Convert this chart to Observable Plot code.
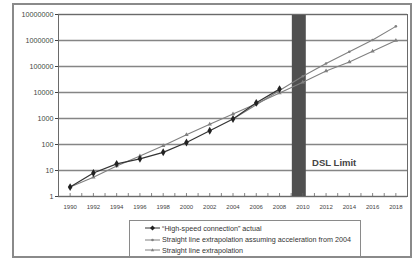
<!DOCTYPE html>
<html><head><meta charset="utf-8">
<script src="https://cdn.jsdelivr.net/npm/d3@7"></script>
<script src="https://cdn.jsdelivr.net/npm/@observablehq/plot@0.6"></script>
<style>
body{margin:0;background:#fff;font-family:"Liberation Sans",Arial,sans-serif;}
#wrap{position:relative;width:414px;height:264px;overflow:hidden;background:#fff;}
#frame{position:absolute;left:12px;top:3px;width:400px;height:255px;border:2px solid #8a8a8a;box-sizing:border-box;z-index:5;}
#chart{position:absolute;left:0;top:0;z-index:1;}
#legend{position:absolute;left:129px;top:220px;width:232px;height:37px;border:1.2px solid #8a8a8a;border-bottom:none;box-sizing:border-box;font-size:7.2px;color:#333;z-index:4;}
.item{position:absolute;left:15px;display:flex;align-items:center;height:9px;white-space:nowrap;}
.item svg{margin-right:2px;}
</style></head>
<body>
<div id="wrap"><div id="chart"></div><div id="legend"></div><div id="frame"></div></div>
<script>
const actualYears = [1990,1992,1994,1996,1998,2000,2002,2004,2006,2008];
const actualValues = [2.3, 8, 18, 28, 50, 120, 340, 950, 4000, 13500];
const accelYears = [2004,2006,2008,2010,2012,2014,2016,2018];
const accelValues = [950, 3400, 12000, 42000, 130000, 370000, 1050000, 3500000];
const straightYears = [1990,1992,1994,1996,1998,2000,2002,2004,2006,2008,2010,2012,2014,2016,2018];
const straightValues = [2.3, 5.5, 15, 36, 90, 235, 600, 1480, 3700, 9500, 25000, 67000, 150000, 390000, 1000000];
const xTickLabels = [1990,1992,1994,1996,1998,2000,2002,2004,2006,2008,2010,2012,2014,2016,2018];
const yTickLabels = [1,10,100,1000,10000,100000,1000000,10000000];
const seriesNames = ["\u201cHigh-speed connection\u201d actual",
  "Straight line extrapolation assuming acceleration from 2004",
  "Straight line extrapolation"];
const limitSpan = [2009.1, 2010.3];
const limitLabel = "DSL Limit";
const limitLabelAt = [2010.8, 19];

const actual = actualYears.map((y,i)=>({year:y, value:actualValues[i]}));
const accel = accelYears.map((y,i)=>({year:y, value:accelValues[i]}));
const straight = straightYears.map((y,i)=>({year:y, value:straightValues[i]}));

const gray = "#808080";
const chart = Plot.plot({
  width:414, height:216,
  marginLeft:58, marginRight:7, marginTop:14, marginBottom:20,
  style:{fontFamily:"Liberation Sans, Arial, sans-serif", background:"transparent", color:"#444"},
  x:{domain:[1989,2019], label:null},
  y:{type:"log", domain:[1,1e7], label:null},
  marks:[
    Plot.gridY(yTickLabels, {stroke:"#858585", strokeOpacity:1, strokeWidth:1.3}),
    Plot.rect([limitSpan], {x1:d=>d[0], x2:d=>d[1], y1:1, y2:1e7, fill:"#505050"}),
    Plot.ruleX(d3.range(1989,2020), {y1:1, y2:1.3, stroke:"#666", strokeWidth:0.8}),
    Plot.frame({stroke:"#6a6a6a", strokeWidth:1}),
    Plot.axisY({ticks:yTickLabels, tickFormat:d=>String(d), tickSize:3, tickPadding:2, fontSize:7.2, fill:"#444", label:null}),
    Plot.axisX({ticks:xTickLabels, tickFormat:d=>String(d), tickSize:0, tickPadding:8, fontSize:6, fill:"#444", label:null}),
    Plot.line(straight, {x:"year", y:"value", stroke:gray, strokeWidth:1.1}),
    Plot.dot(straight, {x:"year", y:"value", symbol:"triangle", r:1.6, fill:gray}),
    Plot.line(accel, {x:"year", y:"value", stroke:gray, strokeWidth:1.1}),
    Plot.dot(accel, {x:"year", y:"value", symbol:"circle", r:1.3, fill:gray}),
    Plot.line(actual, {x:"year", y:"value", stroke:"#333", strokeWidth:1.2}),
    Plot.dot(actual, {x:"year", y:"value", symbol:"diamond", r:2.4, fill:"#222"}),
    Plot.text([limitLabel], {x:limitLabelAt[0], y:limitLabelAt[1], text:d=>d, textAnchor:"start", fontWeight:"bold", fontSize:9.5, fill:"#444"})
  ]
});
document.getElementById("chart").appendChild(chart);

const legend = document.getElementById("legend");
const styles = [
  {stroke:"#333", fill:"#222", shape:"diamond"},
  {stroke:gray, fill:gray, shape:"circle"},
  {stroke:gray, fill:gray, shape:"triangle"}
];
const tops = [2.5, 14, 24.5];
seriesNames.forEach((name,i)=>{
  const div = document.createElement("div");
  div.className = "item";
  div.style.top = tops[i] + "px";
  const s = styles[i];
  let marker = "";
  if (s.shape==="diamond") marker = `<path d="M7.5,1.5 L10,4 L7.5,6.5 L5,4 Z" fill="${s.fill}"/>`;
  else if (s.shape==="circle") marker = `<circle cx="7.5" cy="4" r="1.3" fill="${s.fill}"/>`;
  else marker = `<path d="M7.5,2.3 L9.2,5.2 L5.8,5.2 Z" fill="${s.fill}"/>`;
  div.innerHTML = `<svg width="15" height="8"><line x1="0" x2="15" y1="4" y2="4" stroke="${s.stroke}" stroke-width="1"/>${marker}</svg><span>${name}</span>`;
  legend.appendChild(div);
});
</script>
</body></html>
